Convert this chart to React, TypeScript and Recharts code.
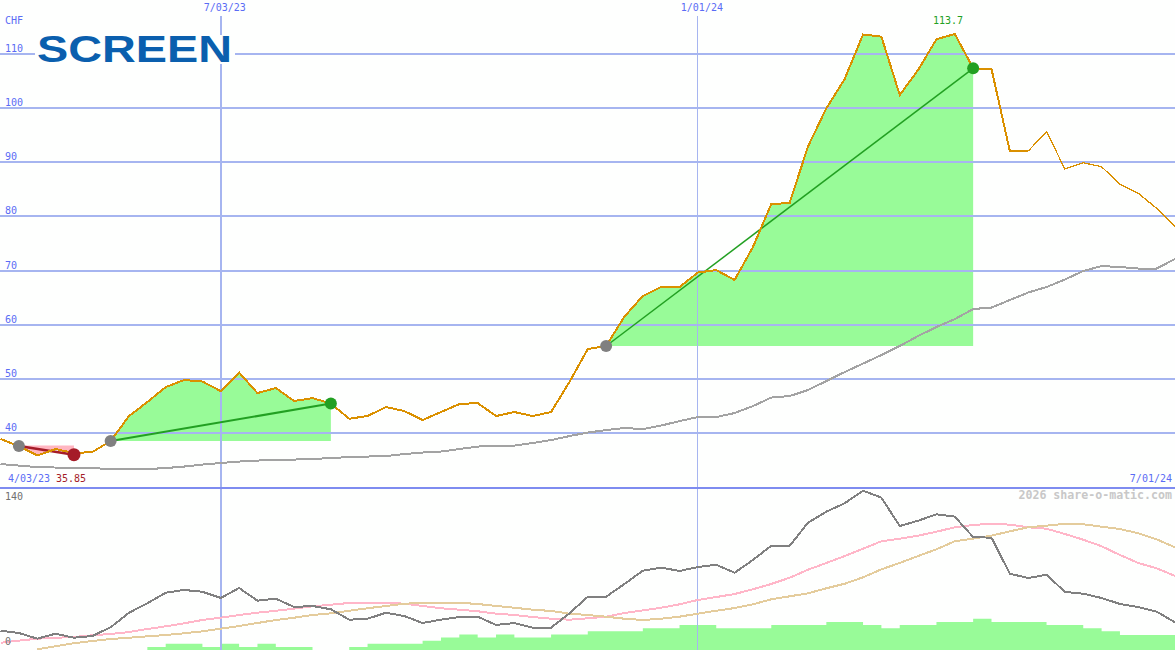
import React from "react";
import {
  Area,
  ComposedChart,
  Line,
  ReferenceLine,
  XAxis,
  YAxis,
} from "recharts";

const price = [
  38.89, 37.6, 35.85, 37.04, 36.3, 36.49, 38.52, 43.14, 45.72, 48.49, 49.79, 49.51, 47.75,
  51.17, 47.38, 48.31, 45.91, 46.46, 45.45, 42.64, 43.14, 44.8, 44.06, 42.4, 43.88, 45.35,
  45.54, 43.14, 43.88, 43.14, 43.88, 49.42, 55.51, 56.07, 61.51, 65.3, 66.96, 66.96, 69.64,
  70.1, 68.26, 74.35, 82.29, 82.48, 92.91, 99.97, 105.38, 113.6, 113.2, 102.43, 107.04,
  112.72, 113.7, 107.36, 107.23, 92.08, 92.08, 95.65, 88.76, 89.92, 89.18, 85.93, 84.27,
  81.5, 78.1,
];
const average = [
  34.27, 33.99, 33.72, 33.63, 33.53, 33.53, 33.35, 33.35, 33.35, 33.53, 33.81, 34.18, 34.46,
  34.73, 34.92, 35.01, 35.1, 35.2, 35.38, 35.56, 35.66, 35.75, 36.12, 36.4, 36.58, 37.04,
  37.5, 37.69, 37.69, 38.15, 38.7, 39.44, 40.09, 40.55, 40.92, 40.74, 41.38, 42.21, 42.95,
  42.95, 43.69, 44.98, 46.55, 46.83, 47.94, 49.6, 51.26, 52.83, 54.4, 56.07, 57.91, 59.58,
  61.05, 62.9, 63.18, 64.56, 65.95, 66.96, 68.35, 69.92, 70.84, 70.66, 70.38, 70.38, 72.14,
];
const strength = [
  18.6, 16.4, 10.9, 15.7, 11.8, 13.5, 21.9, 35.9, 45, 55.2, 57.8, 56.1, 50.1, 59.7, 47.5,
  49.4, 41.4, 42.4, 39.2, 29.2, 30.1, 35.9, 32.7, 26, 29.2, 31.8, 32.1, 24.1, 26, 21.5, 21.5,
  35.3, 51.3, 51.3, 63.6, 76.4, 79.3, 76.1, 79.9, 82.1, 74.4, 86.7, 100.4, 100.2, 122.6,
  133.2, 141.3, 153.4, 146.7, 119.4, 124.5, 130.7, 128.4, 108.8, 108.1, 73.5, 69.3, 72.5,
  55.9, 54.2, 50.1, 44.3, 41.4, 36.9, 26.7,
];
const strengthFast = [
  7, 9, 10.9, 11.8, 12.5, 14.2, 15.4, 17.3, 20.2, 22.8, 25.7, 28.9, 31.1, 33.7, 35.9, 37.8,
  39.8, 42.1, 43.6, 45.3, 45.5, 45.5, 44.6, 42.4, 40.2, 38.8, 37.3, 35, 33.7, 31.8, 30.1,
  29.2, 30.5, 32.1, 35.6, 38.2, 40.7, 44, 48.2, 51, 53.9, 58.5, 63.6, 69.6, 77.3, 83.8, 90.5,
  97.6, 104.7, 107.2, 110.1, 113.9, 118.2, 120.4, 121.6, 120.7, 118.2, 116.8, 111.7, 106.2,
  99.9, 91.5, 83.8, 78.7, 71.3,
];
const strengthSlow = [
  null, null, 0.7, 3.6, 6.5, 8.7, 10.6, 11.8, 13.2, 14.4, 16.1, 18, 20.5, 23.1, 26, 28.9,
  31.1, 33.7, 35.3, 37.8, 40.2, 42.4, 44.6, 45.3, 45.3, 45.5, 44.3, 42.4, 40.7, 38.8, 37.6,
  35, 33.7, 32.1, 30.1, 28.9, 30.1, 32.1, 35, 37.8, 40.4, 44, 48.8, 51.7, 54.6, 59.4, 63.8,
  70, 77.7, 83.8, 90.5, 97, 104.7, 107.2, 110.1, 114.3, 118.2, 119.7, 121.6, 121.1, 118.7,
  116.5, 112.4, 106.6, 98.9,
];
const volume = [
  0, 0, 0, 0, 0, 0, 0, 0, 3, 6, 6, 3, 6, 3, 6, 3, 3, 0, 0, 3, 6, 6, 6, 9, 12, 15, 12, 15, 12,
  12, 15, 15, 18, 18, 18, 21, 21, 24, 24, 21, 21, 21, 24, 24, 24, 27, 27, 24, 21, 24, 24, 27,
  27, 30, 27, 27, 27, 24, 24, 21, 18, 14.5, 14.5, 14.5, 14.5,
];

// week numbers of the trades drawn on the price panel
const lossTrade = [1, 4];
const winTradeA = [6, 18];
const winTradeB = [33, 53];
const lossExit = 36.0;
// the price line gets thinner from this week on
const thinFrom = 56;

const priceTicks = [40, 50, 60, 70, 80, 90, 100, 110];
const strengthTicks = [0, 140];
const dateTicks = [12, 38];
const dateLabels: Record<number, string> = { 12: "7/03/23", 38: "1/01/24" };

const between = (i: number, trade: number[]) =>
  i >= trade[0] && i <= trade[1] ? price[i] : null;
const ends = (i: number, trade: number[]) =>
  i === trade[0] || i === trade[1] ? price[i] : null;

const priceData = price.map((p, i) => ({
  week: i,
  priceHead: i <= thinFrom ? p : null,
  priceTail: i >= thinFrom ? p : null,
  average: average[i],
  lossFill: between(i, lossTrade),
  winFillA: between(i, winTradeA),
  winFillB: between(i, winTradeB),
  lossLine: i === lossTrade[1] ? lossExit : ends(i, lossTrade),
  winLineA: ends(i, winTradeA),
  winLineB: ends(i, winTradeB),
}));

const strengthData = strength.map((s, i) => ({
  week: i,
  strength: s,
  fast: strengthFast[i],
  slow: strengthSlow[i],
  volume: volume[i],
}));

const GRID = "#a6b5f0";
const BLUE = "#5a6cf5";
const MONO = "'DejaVu Sans Mono', monospace";
const GREEN = "#22a022";
const RED = "#a51c28";
const GAIN = "#98fb98";
const PAPER = "#fefffe";
const WEEKS = [-0.03, 64];

const tradeDot = (endColor: string, trade: number[], radius: number) => (props: any) => {
  if (props.value == null) return <g key={props.index} />;
  const color = props.index === trade[0] ? "#808080" : endColor;
  const r = props.index === trade[0] ? 6 : radius;
  return <circle key={props.index} cx={props.cx} cy={props.cy} r={r} fill={color} />;
};

const PriceTick = ({ y, payload }: any) => (
  <text x={5} y={y - 2} fill={BLUE} fontFamily={MONO} fontSize={10}>
    {payload.value}
  </text>
);
const StrengthTick = ({ y, payload }: any) => (
  <text x={5} y={y - 5} fill="#707070" fontFamily={MONO} fontSize={10}>
    {payload.value}
  </text>
);
const DateTick = ({ x, payload }: any) => (
  <text x={x + 4} y={11} fill={BLUE} fontFamily={MONO} fontSize={10} textAnchor="middle">
    {dateLabels[payload.value]}
  </text>
);

const note = (style: React.CSSProperties, text: string, color = BLUE) => (
  <div
    style={{
      position: "absolute",
      fontFamily: MONO,
      fontSize: 10,
      lineHeight: "12px",
      whiteSpace: "nowrap",
      color,
      ...style,
    }}
  >
    {text}
  </div>
);

export default function App() {
  return (
    <div
      style={{
        position: "absolute",
        left: 0,
        top: 0,
        width: 1175,
        height: 650,
        background: PAPER,
        overflow: "hidden",
      }}
    >
      <div style={{ position: "absolute", left: 0, top: 0 }}>
        <ComposedChart
          width={1175}
          height={488}
          data={priceData}
          margin={{ top: 0, right: 0, bottom: 0, left: 0 }}
        >
          <XAxis
            dataKey="week"
            type="number"
            domain={WEEKS}
            orientation="top"
            mirror
            ticks={dateTicks}
            axisLine={false}
            tickLine={false}
            tick={DateTick}
            height={1}
            allowDataOverflow
          />
          <YAxis
            domain={[29.85, 119.97]}
            mirror
            ticks={priceTicks}
            interval={0}
            axisLine={false}
            tickLine={false}
            tick={PriceTick}
            allowDataOverflow
          />
          {priceTicks.map((t) => (
            <ReferenceLine key={t} y={t} stroke={GRID} strokeWidth={2} shapeRendering="crispEdges" />
          ))}
          <ReferenceLine
            segment={[{ x: 12, y: 117 }, { x: 12, y: 29.85 }]}
            stroke={GRID}
            strokeWidth={2}
            shapeRendering="crispEdges"
          />
          <ReferenceLine
            segment={[{ x: 38, y: 117 }, { x: 38, y: 29.85 }]}
            stroke={GRID}
            strokeWidth={1}
            shapeRendering="crispEdges"
          />
          <Area
            dataKey="lossFill"
            baseValue={37.7}
            stroke="none"
            fill="#ffb6c1"
            fillOpacity={1}
            activeDot={false}
            isAnimationActive={false}
          />
          <Area
            dataKey="winFillA"
            baseValue={38.52}
            stroke="none"
            fill={GAIN}
            fillOpacity={1}
            activeDot={false}
            isAnimationActive={false}
          />
          <Area
            dataKey="winFillB"
            baseValue={56.07}
            stroke="none"
            fill={GAIN}
            fillOpacity={1}
            activeDot={false}
            isAnimationActive={false}
          />
          <Line
            dataKey="average"
            stroke="#a3a3a3"
            strokeWidth={2}
            dot={false}
            activeDot={false}
            shapeRendering="crispEdges"
            isAnimationActive={false}
          />
          <Line
            dataKey="lossLine"
            connectNulls
            stroke={RED}
            strokeWidth={2.5}
            dot={tradeDot(RED, lossTrade, 6.5)}
            activeDot={false}
            isAnimationActive={false}
          />
          <Line
            dataKey="winLineA"
            connectNulls
            stroke={GREEN}
            strokeWidth={2}
            dot={tradeDot(GREEN, winTradeA, 6)}
            activeDot={false}
            isAnimationActive={false}
          />
          <Line
            dataKey="winLineB"
            connectNulls
            stroke={GREEN}
            strokeWidth={1.5}
            dot={tradeDot(GREEN, winTradeB, 6)}
            activeDot={false}
            isAnimationActive={false}
          />
          <Line
            dataKey="priceHead"
            stroke="#da9000"
            strokeWidth={2}
            dot={false}
            activeDot={false}
            shapeRendering="crispEdges"
            isAnimationActive={false}
          />
          <Line
            dataKey="priceTail"
            stroke="#da9000"
            strokeWidth={1.3}
            dot={false}
            activeDot={false}
            shapeRendering="crispEdges"
            isAnimationActive={false}
          />
        </ComposedChart>
      </div>

      <div style={{ position: "absolute", left: 0, top: 488 }}>
        <ComposedChart
          width={1175}
          height={162}
          data={strengthData}
          margin={{ top: 0, right: 0, bottom: 0, left: 0 }}
        >
          <XAxis dataKey="week" type="number" domain={WEEKS} hide allowDataOverflow />
          <YAxis
            domain={[0, 156]}
            mirror
            ticks={strengthTicks}
            interval={0}
            axisLine={false}
            tickLine={false}
            tick={StrengthTick}
            allowDataOverflow
          />
          <ReferenceLine x={12} stroke={GRID} strokeWidth={2} shapeRendering="crispEdges" />
          <ReferenceLine x={38} stroke={GRID} strokeWidth={1} shapeRendering="crispEdges" />
          <Area
            dataKey="volume"
            type="stepAfter"
            stroke="none"
            fill={GAIN}
            fillOpacity={1}
            activeDot={false}
            isAnimationActive={false}
          />
          <Line dataKey="fast" stroke="#ffb6c8" strokeWidth={2} dot={false} activeDot={false} shapeRendering="crispEdges" isAnimationActive={false} />
          <Line dataKey="slow" stroke="#e4cc9c" strokeWidth={2} dot={false} activeDot={false} shapeRendering="crispEdges" isAnimationActive={false} />
          <Line dataKey="strength" stroke="#808080" strokeWidth={2} dot={false} activeDot={false} shapeRendering="crispEdges" isAnimationActive={false} />
        </ComposedChart>
      </div>

      <div style={{ position: "absolute", left: 0, top: 487, width: 1175, height: 2, background: "#7e8cf0" }} />

      <svg width={200} height={50} style={{ position: "absolute", left: 35, top: 25, display: "block" }}>
        <rect x={0} y={10} width={200} height={29} fill={PAPER} />
        <text
          x={2}
          y={37}
          fontFamily="'Liberation Sans', sans-serif"
          fontWeight={700}
          fontSize={36}
          fill="#0a5fae"
          textLength={195}
          lengthAdjust="spacingAndGlyphs"
        >
          SCREEN
        </text>
      </svg>

      {note({ left: 5, top: 15 }, "CHF")}
      {note({ left: 933, top: 15 }, "113.7", GREEN)}
      {note({ left: 8, top: 473 }, "4/03/23")}
      {note({ left: 56, top: 473 }, "35.85", RED)}
      {note({ right: 3, top: 473 }, "7/01/24")}
      {note(
        { right: 3, top: 489, fontSize: 11.6, fontWeight: 700 },
        "2026 share-o-matic.com",
        "#c8c8c8"
      )}
    </div>
  );
}
